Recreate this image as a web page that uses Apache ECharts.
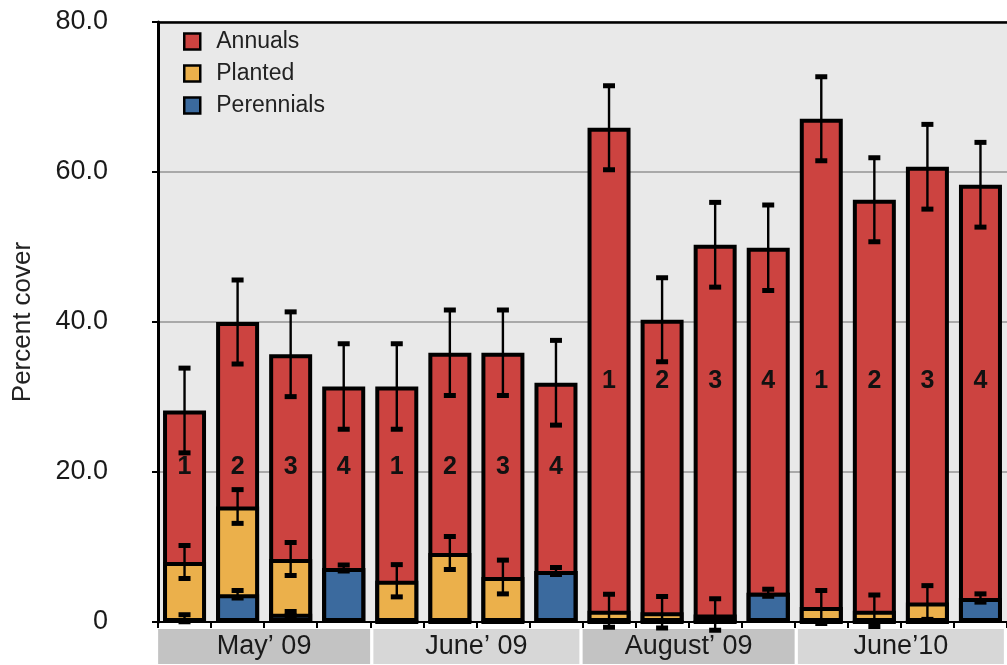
<!DOCTYPE html>
<html>
<head>
<meta charset="utf-8">
<script src="https://cdn.jsdelivr.net/npm/echarts@6/dist/echarts.min.js"></script>
<style>
  html, body { margin: 0; padding: 0; background: #ffffff; }
  #chart { width: 1007px; height: 665px; }
</style>
</head>
<body>
<div id="chart"></div>
<script>
// Sampling dates, four plots per date
const groups = ['May\u2019 09', 'June\u2019 09', 'August\u2019 09', 'June\u201910'];
const plots = ['1', '2', '3', '4', '1', '2', '3', '4', '1', '2', '3', '4', '1', '2', '3', '4'];

// Percent cover of each layer (stacked from the bottom: perennials, planted, annuals)
const perennials = [0.5, 3.7, 1.1, 7.2, 0, 0, 0, 6.8, 0, 0, 0, 3.9, 0, 0, 0, 3.2];
const planted    = [7.5, 11.7, 7.3, 0, 5.5, 9.2, 6.0, 0, 1.5, 1.3, 1.0, 0, 2.0, 1.5, 2.6, 0];
const annuals    = [20.2, 24.6, 27.3, 24.2, 25.9, 26.7, 29.9, 25.1, 64.4, 39.0, 49.3, 46.0, 65.1, 54.8, 58.1, 55.1];

// Standard errors of each layer
const perennialsErr = [0.47, 0.5, 0.3, 0.4, 0, 0, 0, 0.47, 0, 0, 0, 0.47, 0, 0, 0, 0.55];
const plantedErr    = [2.2, 2.25, 2.2, 0, 2.15, 2.2, 2.25, 0, 2.2, 2.1, 2.1, 0, 2.2, 2.1, 2.25, 0];
const annualsErr    = [5.65, 5.6, 5.65, 5.7, 5.7, 5.7, 5.7, 5.65, 5.6, 5.6, 5.65, 5.7, 5.6, 5.6, 5.65, 5.65];

const yTicks = [0, 20, 40, 60, 80];

const FONT = 'Liberation Sans, Arial, Helvetica, sans-serif';
const COLORS = { annuals: '#cc4340', planted: '#ebb04b', perennials: '#3b6a9e' };

// Cumulative tops of each layer; every layer is drawn from zero and the
// lower layers are painted over the upper ones, which gives a single
// outline at each boundary.
const perTop = perennials.map(v => v);
const plaTop = planted.map((v, i) => +(perTop[i] + v).toFixed(2));
const annTop = annuals.map((v, i) => +(plaTop[i] + v).toFixed(2));

function errData(tops, errs) {
  return tops.map((t, i) => [i, t, errs[i]]);
}

function renderErr(params, api) {
  const e = api.value(2);
  if (!(e > 0)) return null;
  const x = api.value(0);
  const t = api.value(1);
  const hi = api.coord([x, t + e]);
  const lo = api.coord([x, t - e]);
  const hw = 6, ch = 5;
  return {
    type: 'group',
    children: [
      { type: 'line', shape: { x1: hi[0], y1: hi[1], x2: lo[0], y2: lo[1] }, style: { stroke: '#000', lineWidth: 2.4 } },
      { type: 'rect', shape: { x: hi[0] - hw, y: hi[1] - ch / 2, width: hw * 2, height: ch }, style: { fill: '#000' } },
      { type: 'rect', shape: { x: lo[0] - hw, y: lo[1] - ch / 2, width: hw * 2, height: ch }, style: { fill: '#000' } }
    ]
  };
}

// Plot numbers sit at a fixed height inside each bar, higher for the later dates
const labelData = plots.map((p, i) => [i, i < 8 ? 20.7 : 32.1]);

function renderLabel(params, api) {
  const pt = api.coord([api.value(0), api.value(1)]);
  return {
    type: 'text',
    x: pt[0], y: pt[1],
    style: {
      text: plots[params.dataIndex],
      font: 'bold 25px ' + FONT,
      fill: '#111',
      align: 'center',
      verticalAlign: 'middle'
    }
  };
}

const barStyle = (c) => ({ color: c, borderColor: '#000', borderWidth: 4 });

const chart = echarts.init(document.getElementById('chart'), null, { renderer: 'canvas' });

chart.setOption({
  animation: false,
  backgroundColor: '#ffffff',
  textStyle: { fontFamily: FONT },
  grid: {
    left: 158, top: 22, width: 854.5, height: 600,
    show: true, backgroundColor: '#e9e9e9', borderWidth: 0
  },
  legend: {
    orient: 'vertical',
    left: 178, top: 25,
    icon: 'rect',
    itemWidth: 16, itemHeight: 16, itemGap: 9,
    data: ['Annuals', 'Planted', 'Perennials'],
    itemStyle: { borderColor: '#000', borderWidth: 2.5 },
    textStyle: { fontFamily: FONT, fontSize: 23, color: '#222', padding: [0, 0, 0, 11] },
    selectedMode: false
  },
  xAxis: [
    {
      type: 'category',
      data: plots.map((p, i) => i),
      position: 'bottom',
      axisLine: { show: true, lineStyle: { color: '#000', width: 2 } },
      axisTick: { show: true, length: 6, lineStyle: { color: '#000', width: 2 }, interval: 0 },
      axisLabel: { show: false },
      splitLine: { show: false }
    },
    {
      type: 'category',
      data: groups,
      position: 'bottom',
      axisLine: { show: false },
      axisTick: { show: false },
      axisLabel: {
        interval: 0,
        margin: 7,
        formatter: (v, i) => (i % 2 === 0 ? '{a|' + v + '}' : '{b|' + v + '}'),
        rich: {
          a: { backgroundColor: '#c3c3c3', width: 212, height: 35, lineHeight: 35, align: 'center', fontSize: 27, fontFamily: FONT, color: '#1a1a1a' },
          b: { backgroundColor: '#d7d7d7', width: 206, height: 35, lineHeight: 35, align: 'center', fontSize: 27, fontFamily: FONT, color: '#1a1a1a' }
        }
      }
    },
    {
      type: 'category',
      data: plots.map((p, i) => i),
      position: 'top',
      axisLine: { show: true, lineStyle: { color: '#000', width: 2.5 } },
      axisTick: { show: false },
      axisLabel: { show: false }
    }
  ],
  yAxis: {
    type: 'value',
    min: yTicks[0], max: yTicks[yTicks.length - 1], interval: 20,
    name: 'Percent cover',
    nameLocation: 'middle',
    nameGap: 122,
    nameTextStyle: { fontSize: 26, color: '#222', fontFamily: FONT },
    axisLine: { show: true, lineStyle: { color: '#000', width: 3 } },
    axisTick: { show: true, length: 6, lineStyle: { color: '#000', width: 2 } },
    axisLabel: {
      margin: 50,
      fontSize: 27, color: '#1a1a1a', fontFamily: FONT,
      formatter: v => (v === 0 ? '0' : v.toFixed(1))
    },
    splitLine: { show: true, lineStyle: { color: '#a9a9a9', width: 2 } }
  },
  series: [
    { name: 'Annuals', type: 'bar', barWidth: 43, barGap: '-100%', data: annTop, itemStyle: barStyle(COLORS.annuals) },
    { name: 'Planted', type: 'bar', barWidth: 43, barGap: '-100%', data: plaTop, itemStyle: barStyle(COLORS.planted) },
    { name: 'Perennials', type: 'bar', barWidth: 43, barGap: '-100%', data: perTop, itemStyle: barStyle(COLORS.perennials) },
    { type: 'custom', renderItem: renderErr, data: errData(perTop, perennialsErr), z: 5, silent: true },
    { type: 'custom', renderItem: renderErr, data: errData(plaTop, plantedErr), z: 5, silent: true },
    { type: 'custom', renderItem: renderErr, data: errData(annTop, annualsErr), z: 5, silent: true },
    { type: 'custom', renderItem: renderLabel, data: labelData, z: 6, silent: true }
  ]
});
</script>
</body>
</html>
